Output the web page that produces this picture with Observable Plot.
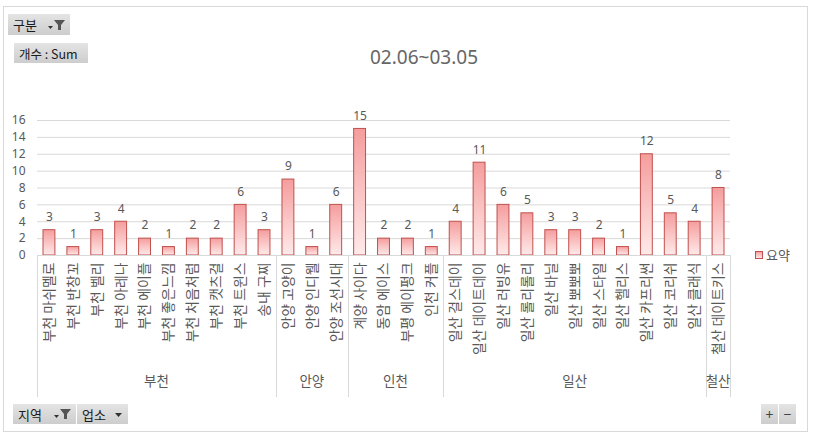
<!DOCTYPE html>
<html><head><meta charset="utf-8">
<script src="https://cdn.jsdelivr.net/npm/d3@7"></script>
<script src="https://cdn.jsdelivr.net/npm/@observablehq/plot@0.6"></script>
<style>
body{margin:0;background:#fff;font-family:"Noto Sans CJK KR","Noto Sans",sans-serif;}
#wrap{position:relative;width:814px;height:438px;overflow:hidden;}
#border{position:absolute;left:3px;top:6px;width:805px;height:426px;border:1px solid #d9d9d9;box-sizing:border-box;}
.btn{position:absolute;background:linear-gradient(#e4e4e4,#cdcdcd);color:#1a1a1a;font-size:12px;box-sizing:border-box;display:flex;align-items:center;padding-left:5px;white-space:nowrap;}
.btn svg{margin-left:auto;margin-right:4px;}
#title{position:absolute;left:324px;width:200px;top:44px;text-align:center;font-size:19px;color:#666;font-family:"Noto Sans","Noto Sans CJK KR",sans-serif;}
#legend{position:absolute;left:755px;top:245px;font-size:13px;color:#595959;display:flex;align-items:center;}
#legend .sw{width:6px;height:6px;border:1px solid #c0504d;background:linear-gradient(#f5a0a0,#ffe8e8);margin-right:3px;}
</style>
</head><body>
<div id="wrap">
  <div id="chart"></div>
  <div id="border"></div>
  <div id="title">02.06~03.05</div>
  <div class="btn" style="left:8px;top:14px;width:62px;height:21px;font-size:13px;">구분<svg width="20" height="12" viewBox="0 0 20 12"><path d="M2 7h5l-2.5 3z" fill="#333"/><path d="M8 1h11l-4 5v5h-3v-5z" fill="#555"/></svg></div>
  <div class="btn" style="left:14px;top:43px;width:74px;height:20px;font-size:12.5px;">개수 : Sum</div>
  <div class="btn" style="left:13px;top:404px;width:63px;height:20px;font-size:13px;">지역<svg width="20" height="12" viewBox="0 0 20 12"><path d="M2 7h5l-2.5 3z" fill="#333"/><path d="M8 1h11l-4 5v5h-3v-5z" fill="#555"/></svg></div>
  <div class="btn" style="left:77px;top:404px;width:51px;height:20px;font-size:13px;">업소<svg width="10" height="12" viewBox="0 0 10 12"><path d="M1 5h7l-3.5 4z" fill="#333"/></svg></div>
  <div class="btn" style="left:761px;top:404px;width:17px;height:20px;padding:0;justify-content:center;font-size:14px;color:#444;">+</div>
  <div class="btn" style="left:779px;top:404px;width:17px;height:20px;padding:0;justify-content:center;font-size:14px;color:#444;">−</div>
  <div id="legend"><div class="sw"></div>요약</div>
</div>
<script>
const shops = ["부천 마쉬멜로","부천 반창꼬","부천 벨리","부천 아레나","부천 에이플","부천 좋은느낌","부천 처음처럼","부천 캣츠걸","부천 트윈스","송내 구찌",
  "안양 고양이","안양 인디웰","안양 조선시대",
  "계양 사이다","동암 에이스","부평 에이펑크","인천 커플",
  "일산 걸스데이","일산 데이트데이","일산 러빙유","일산 롤리롤리","일산 바닐","일산 뽀뽀뽀","일산 스타일","일산 헬리스","일산 카프리썬","일산 코리쉬","일산 클래식",
  "철산 데이트키스"];
const regionOf = ["부천","부천","부천","부천","부천","부천","부천","부천","부천","부천",
  "안양","안양","안양",
  "인천","인천","인천","인천",
  "일산","일산","일산","일산","일산","일산","일산","일산","일산","일산","일산",
  "철산"];
const counts = [3,1,3,4,2,1,2,2,6,3, 9,1,6, 15,2,2,1, 4,11,6,5,3,3,2,1,12,5,4, 8];
const groups = ["부천","안양","인천","일산","철산"];
const yTicks = [0,2,4,6,8,10,12,14,16];

const data = shops.map((s,i)=>({shop:s, region:regionOf[i], count:counts[i]}));
const gray = "#595959";
const digitFont = '"Noto Sans",sans-serif';

const plot = Plot.plot({
  width: 814, height: 438,
  marginLeft: 37, marginRight: 84, marginTop: 120, marginBottom: 183,
  style: {fontFamily: '"Noto Sans CJK KR","Noto Sans",sans-serif', background: "transparent", overflow: "visible"},
  x: {domain: shops, padding: 0, round: false},
  y: {domain: [0,16]},
  marks: [
    Plot.gridY(yTicks, {stroke: "#d9d9d9", strokeOpacity: 1}),
    Plot.axisY(yTicks, {tickSize: 0, tickPadding: 12, fontSize: 12, fontFamily: digitFont, fill: gray, label: null}),
    Plot.axisX({tickRotate: -90, tickSize: 0, tickPadding: 7, fontSize: 13.9, fill: gray, label: null}),
    Plot.barY(data, {x: "shop", y: "count", fill: "url(#barGrad)", stroke: "#c0504d", strokeWidth: 1, insetLeft: 6, insetRight: 6}),
    Plot.text(data, {x: "shop", y: "count", text: d => String(d.count), dy: -13, fill: gray, fontSize: 12, fontFamily: digitFont})
  ]
});
document.getElementById("chart").appendChild(plot);

const svg = d3.select(plot);
const defs = svg.insert("defs", ":first-child");
const g = defs.append("linearGradient").attr("id","barGrad").attr("x1",0).attr("y1",0).attr("x2",0).attr("y2",1);
g.append("stop").attr("offset","0%").attr("stop-color","#f59d9d");
g.append("stop").attr("offset","100%").attr("stop-color","#ffeaea");

// category axis frame and region groups, positioned with the plot's scales
const sx = plot.scale("x"), sy = plot.scale("y");
const bw = sx.bandwidth;
const y0 = sy.apply(0);
const yBottom = y0 + 142;
const frame = svg.append("g").attr("stroke","#d9d9d9").attr("fill","none");
const xL = sx.apply(shops[0]), xR = sx.apply(shops[shops.length-1]) + bw;
frame.append("line").attr("x1",xL).attr("x2",xR).attr("y1",y0+0.5).attr("y2",y0+0.5);
const labels = svg.append("g").attr("fill",gray).attr("font-size",13.5).attr("text-anchor","middle");
groups.forEach(gname => {
  const members = shops.filter((s,i)=>regionOf[i]===gname);
  const a = sx.apply(members[0]), b = sx.apply(members[members.length-1]) + bw;
  frame.append("line").attr("x1",Math.round(a)+0.5).attr("x2",Math.round(a)+0.5).attr("y1",y0).attr("y2",yBottom);
  labels.append("text").attr("x",(a+b)/2).attr("y",y0+131).text(gname);
});
frame.append("line").attr("x1",Math.round(xR)+0.5).attr("x2",Math.round(xR)+0.5).attr("y1",y0).attr("y2",yBottom);
</script>
</body></html>
